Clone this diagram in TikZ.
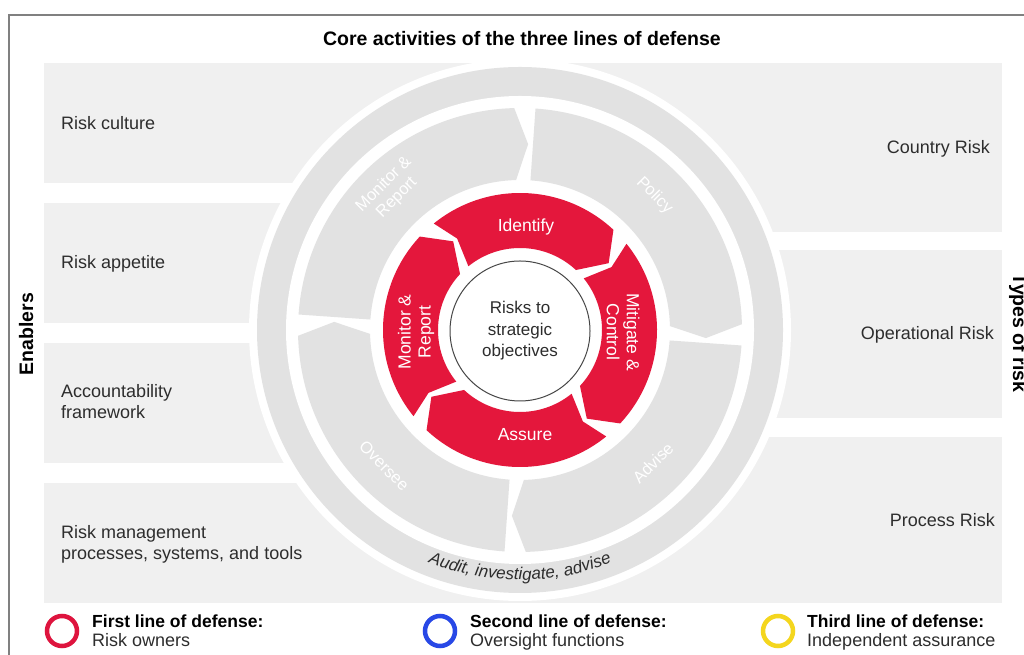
\documentclass[tikz,border=0pt]{standalone}
\usepackage{fontspec}
\setmainfont{Liberation Sans}
\usetikzlibrary{decorations.text}

\definecolor{boxgray}{RGB}{240,240,240}
\definecolor{ringgray}{RGB}{226,226,226}
\definecolor{segred}{RGB}{228,23,60}
\definecolor{framegray}{RGB}{128,128,128}
\definecolor{txtgray}{RGB}{45,45,45}
\definecolor{circgray}{RGB}{70,70,70}
\definecolor{legred}{RGB}{222,20,62}
\definecolor{legblue}{RGB}{40,72,230}
\definecolor{legyellow}{RGB}{244,214,30}

\begin{document}
\begin{tikzpicture}[x=1pt,y=1pt,
  sidelabel/.style={inner sep=0pt, text=txtgray, font=\fontsize{18}{21}\selectfont, align=left},
  heading/.style={inner sep=0pt, text=black, font=\bfseries\fontsize{19.5}{23}\selectfont},
  redlabel/.style={inner sep=0pt, text=white, font=\fontsize{17.5}{20}\selectfont, align=center},
  graylabel/.style={inner sep=0pt, text=white, font=\fontsize{16.5}{18.5}\selectfont, align=center},
  legring/.style={circle, line width=4.5pt, minimum size=30pt, inner sep=0pt},
  legtitle/.style={inner sep=0pt, anchor=base west, font=\bfseries\fontsize{17.5}{20}\selectfont},
  legtext/.style={inner sep=0pt, anchor=base west, text=txtgray, font=\fontsize{18}{20}\selectfont}]
\useasboundingbox (0,0) rectangle (1024,655);
\fill[white] (0,0) rectangle (1024,655);

% outer frame (only its top and left sides fall inside the page)
\draw[framegray, line width=1.5pt] (9,-20) -- (9,640) -- (1060,640);

% title
\node[heading, anchor=base] (title) at (522,609) {Core activities of the three lines of defense};

% enablers (left column)
\fill[boxgray] (44,472) rectangle (520,592);
\fill[boxgray] (44,332) rectangle (520,452);
\fill[boxgray] (44,192) rectangle (520,312);
\fill[boxgray] (44,52)  rectangle (520,172);
% types of risk (right column)
\fill[boxgray] (520,423) rectangle (1002,592);
\fill[boxgray] (520,237) rectangle (1002,405);
\fill[boxgray] (520,52)  rectangle (1002,218);

\node[sidelabel, anchor=base west] (culture) at (61,525) {Risk culture};
\node[sidelabel, anchor=base west] (appetite) at (61,386) {Risk appetite};
\node[sidelabel, anchor=west] (account) at (61,253.5) {Accountability\\framework};
\node[sidelabel, anchor=west] (processes) at (61,111) {Risk management\\processes, systems, and tools};

\node[sidelabel, anchor=base east] (country) at (990,501) {Country Risk};
\node[sidelabel, anchor=base east] (operational) at (994,315) {Operational Risk};
\node[sidelabel, anchor=base east] (process) at (995,128) {Process Risk};

\node[heading, rotate=90, anchor=base] (enablers) at (33,321) {Enablers};
\node[heading, rotate=-90, anchor=base] (types) at (1013,322) {Types of risk};

% the wheel
\begin{scope}[shift={(520,325)}]
  \fill[white] (0,0) circle[radius=271pt];
  \fill[ringgray] (0,0) circle[radius=263pt];
  \fill[white] (0,0) circle[radius=234pt];

  % oversight activities: straight start, pointed end
  \foreach \c in {135,45,-45,-135} {
    \pgfmathsetmacro\s{\c+45-4}
    \pgfmathsetmacro\e{\c-45+1.5}
    \fill[ringgray] (\s:222pt) arc[start angle=\s, end angle=\e, radius=222pt]
      -- (\e-4:186pt) -- (\e:150pt)
      arc[start angle=\e, end angle=\s, radius=150pt] -- cycle;
  }

  % risk-owner cycle: notched start, pointed end
  \foreach \c in {90,0,-90,-180} {
    \pgfmathsetmacro\s{\c+45-6}
    \pgfmathsetmacro\e{\c-45+2}
    \fill[segred] (\s:137pt) arc[start angle=\s, end angle=\e, radius=137pt]
      -- (\e-10:111pt) -- (\e:82pt)
      arc[start angle=\e, end angle=\s, radius=82pt]
      -- (\s-4.5:111pt) -- cycle;
  }

  \node[circle, draw=circgray, fill=white, line width=1pt, minimum size=140pt,
        inner sep=0pt, align=center, text=txtgray,
        font=\fontsize{17}{21.5}\selectfont] (core) at (0,-1) {Risks to\\strategic\\objectives};

  \node[redlabel] (identify) at (6,103) {Identify};
  \node[redlabel, rotate=-90] (mitigate) at (103,-2) {Mitigate \&\\Control};
  \node[redlabel] (assure) at (5,-105) {Assure};
  \node[redlabel, rotate=90] (monitor) at (-104,-2) {Monitor \&\\Report};

  \node[graylabel, rotate=45] (omonitor) at (133:190pt) {Monitor \&\\Report};
  \node[graylabel, rotate=-45] (policy) at (45:190pt) {Policy};
  \node[graylabel, rotate=45] (advise) at (-45:188pt) {Advise};
  \node[graylabel, rotate=-45] (oversee) at (-135:192pt) {Oversee};

  \path[decorate, decoration={text along path, text align=center,
        text={|\fontsize{17}{20}\itshape\color{txtgray}|Audit, investigate, advise}}]
    (235:250pt) arc[start angle=235, end angle=305, radius=250pt];
\end{scope}

% legend
\node[legring, draw=legred] (first) at (62,24) {};
\node[legtitle] (firsttitle) at (92,27) {First line of defense:};
\node[legtext] (firsttext) at (92,8) {Risk owners};

\node[legring, draw=legblue] (second) at (440,24) {};
\node[legtitle] (secondtitle) at (470,27) {Second line of defense:};
\node[legtext] (secondtext) at (470,8) {Oversight functions};

\node[legring, draw=legyellow] (third) at (778,24) {};
\node[legtitle] (thirdtitle) at (807,27) {Third line of defense:};
\node[legtext] (thirdtext) at (807,8) {Independent assurance};
\end{tikzpicture}
\end{document}
